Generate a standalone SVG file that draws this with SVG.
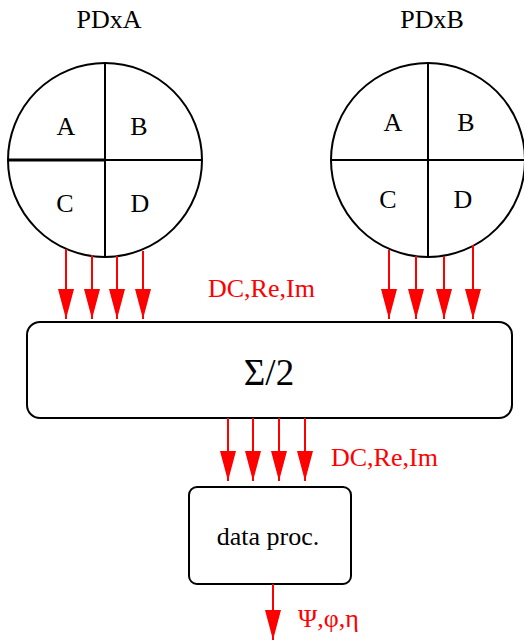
<svg xmlns="http://www.w3.org/2000/svg" width="524" height="642" viewBox="0 0 524 642">
<style>
text{font-family:'Liberation Serif','Times New Roman','DejaVu Serif',serif;font-size:26px}
.t{fill:#000;text-anchor:middle}
.big{font-size:37px}
.r{fill:#ff0000}
.s{fill:none;stroke:#000;stroke-width:2}
.a{stroke:#ff0000;stroke-width:2;fill:none;marker-end:url(#ah)}
</style>
<defs>
<marker id="ah" viewBox="0 0 30 16" refX="30" refY="8" markerWidth="30" markerHeight="16" markerUnits="userSpaceOnUse" orient="auto">
<path d="M0,0 L30,8 L0,16 Z" fill="#ff0000"/>
</marker>
</defs>
<rect width="524" height="642" fill="#fff"/>
<g id="pdxa">
<text class="t" x="109" y="28">PDxA</text>
<circle class="s" cx="105" cy="160" r="97"/>
<line class="s" x1="105" y1="63" x2="105" y2="257"/>
<line x1="8" y1="160" x2="105" y2="160" stroke="#000" stroke-width="3"/>
<line class="s" x1="105" y1="160" x2="202" y2="160"/>
<text class="t" x="66" y="135">A</text>
<text class="t" x="139" y="135">B</text>
<text class="t" x="65" y="212">C</text>
<text class="t" x="140" y="212">D</text>
</g>
<g id="pdxb">
<text class="t" x="432" y="28">PDxB</text>
<circle class="s" cx="428" cy="160" r="97"/>
<line class="s" x1="428" y1="63" x2="428" y2="257"/>
<line class="s" x1="331" y1="160" x2="525" y2="160"/>
<text class="t" x="393" y="131">A</text>
<text class="t" x="466" y="131">B</text>
<text class="t" x="388" y="208">C</text>
<text class="t" x="463" y="208">D</text>
</g>
<g id="sum">
<rect class="s" x="27" y="322" width="485" height="96" rx="13"/>
<text class="t big" x="269" y="385">Σ/2</text>
</g>
<g id="proc">
<rect class="s" x="189" y="487" width="162" height="97" rx="8"/>
<text class="t" x="268" y="545">data proc.</text>
</g>
<g id="connectors">
<line class="a" x1="66" y1="249" x2="66" y2="319"/>
<line class="a" x1="92" y1="255" x2="92" y2="319"/>
<line class="a" x1="117" y1="256" x2="117" y2="319"/>
<line class="a" x1="143" y1="251" x2="143" y2="319"/>
<line class="a" x1="389" y1="250" x2="389" y2="319"/>
<line class="a" x1="416" y1="256" x2="416" y2="319"/>
<line class="a" x1="444" y1="256" x2="444" y2="319"/>
<line class="a" x1="473" y1="245" x2="473" y2="319"/>
<line class="a" x1="228" y1="418" x2="228" y2="481"/>
<line class="a" x1="253" y1="418" x2="253" y2="481"/>
<line class="a" x1="279" y1="418" x2="279" y2="481"/>
<line class="a" x1="305" y1="418" x2="305" y2="481"/>
<line class="a" x1="273" y1="584" x2="273" y2="640"/>
<text class="r" x="208" y="297">DC,Re,Im</text>
<text class="r" x="331" y="466">DC,Re,Im</text>
<text class="r" x="298" y="627">Ψ,φ,η</text>
</g>
</svg>
